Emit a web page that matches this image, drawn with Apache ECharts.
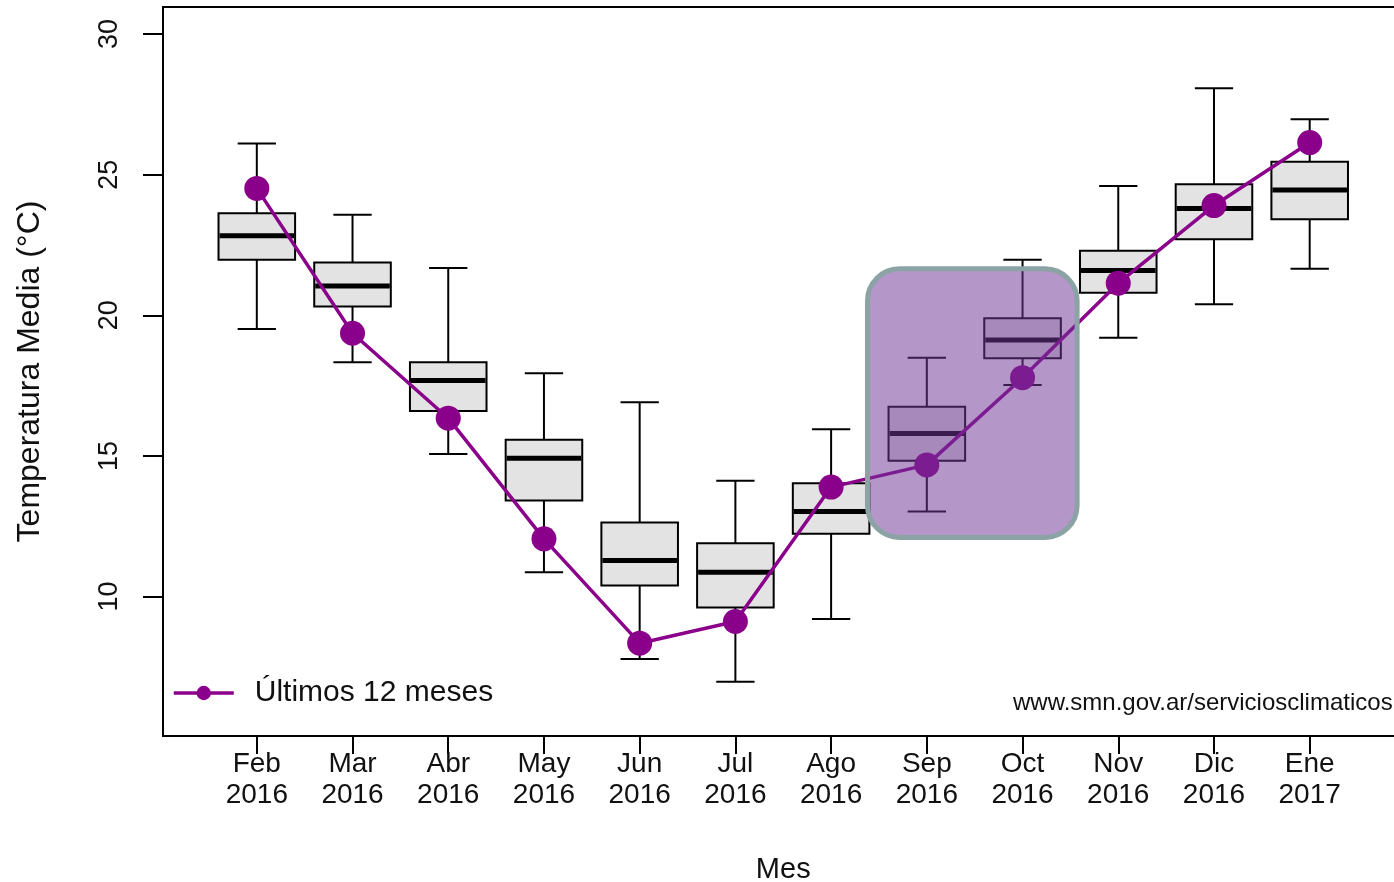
<!DOCTYPE html>
<html>
<head>
<meta charset="utf-8">
<script src="https://cdn.jsdelivr.net/npm/echarts@6/dist/echarts.min.js"></script>
<style>
  html, body { margin: 0; padding: 0; background: #ffffff; }
  #chart { width: 1394px; height: 882px; }
</style>
</head>
<body>
<div id="chart"></div>
<script>
// Monthly mean temperature: historical distribution per month (boxes)
// and the values observed over the last twelve months (line).
const months = ['Feb\n2016', 'Mar\n2016', 'Abr\n2016', 'May\n2016', 'Jun\n2016', 'Jul\n2016',
                'Ago\n2016', 'Sep\n2016', 'Oct\n2016', 'Nov\n2016', 'Dic\n2016', 'Ene\n2017'];
const whiskerLow  = [19.51, 18.33, 15.07, 10.86,  7.78,  6.97,  9.20, 13.02, 17.52, 19.20, 20.39, 21.65];
const quartile1   = [21.97, 20.31, 16.60, 13.41, 10.39,  9.61, 12.23, 14.83, 18.47, 20.80, 22.70, 23.41];
const medians     = [22.83, 21.04, 17.68, 14.92, 11.28, 10.86, 13.02, 15.80, 19.12, 21.59, 23.80, 24.45];
const quartile3   = [23.63, 21.88, 18.33, 15.57, 12.63, 11.89, 14.03, 16.75, 19.89, 22.29, 24.66, 25.46];
const whiskerHigh = [26.11, 23.57, 21.68, 17.94, 16.91, 14.12, 15.95, 18.49, 21.97, 24.60, 28.07, 26.97];
const last12      = [24.51, 19.36, 16.34, 12.05,  8.34,  9.11, 13.89, 14.68, 17.78, 21.14, 23.90, 26.14];
const yTicks = [10, 15, 20, 25, 30];
const positions = months.map((m, i) => i + 1);
// Highlighted months (Sep–Oct), in box-position and °C units
const highlightX = [7.38, 9.57];
const highlightY = [12.1, 21.65];

const seriesName = 'Últimos 12 meses';
const FONT = "'Liberation Sans', Arial, sans-serif";
const INK = '#111111';
const LINE_COLOR = '#8B008B';

const boxData = positions.map((p, i) =>
  [p, whiskerLow[i], quartile1[i], medians[i], quartile3[i], whiskerHigh[i]]);
const lineData = positions.map((p, i) => [p, last12[i]]);

const chart = echarts.init(document.getElementById('chart'), null, { renderer: 'canvas' });

chart.setOption({
  animation: false,
  backgroundColor: '#ffffff',
  textStyle: { fontFamily: FONT, color: INK },
  grid: {
    left: 163, right: -9.5, top: 7, bottom: 146,
    outerBoundsMode: 'none',
    containLabel: false,
    show: true, borderColor: '#000000', borderWidth: 2, backgroundColor: 'transparent'
  },
  xAxis: {
    type: 'value',
    min: 0.02, max: 12.98,
    name: 'Mes',
    nameLocation: 'middle',
    nameGap: 119,
    nameTextStyle: { fontSize: 29, color: INK, fontFamily: FONT },
    axisLine: { show: false },
    splitLine: { show: false },
    axisTick: { show: true, inside: false, length: 18, customValues: positions,
                lineStyle: { color: '#000000', width: 2 } },
    axisLabel: {
      customValues: positions,
      formatter: v => months[Math.round(v) - 1] || '',
      fontSize: 28, lineHeight: 31, margin: 13, color: INK, fontFamily: FONT
    }
  },
  yAxis: {
    type: 'value',
    min: 5.04, max: 30.96,
    name: 'Temperatura Media (°C)',
    nameLocation: 'middle',
    nameGap: 117,
    nameRotate: 90,
    nameTextStyle: { fontSize: 32, color: INK, fontFamily: FONT },
    axisLine: { show: false },
    splitLine: { show: false },
    axisTick: { show: true, inside: false, length: 20, customValues: yTicks,
                lineStyle: { color: '#000000', width: 2 } },
    axisLabel: {
      customValues: yTicks,
      rotate: 90, fontSize: 27, margin: 40, color: INK, fontFamily: FONT
    }
  },
  legend: {
    data: [seriesName],
    left: 172, top: 678,
    padding: 0,
    itemWidth: 60, itemHeight: 18,
    lineStyle: { width: 3.5 },
    textStyle: { fontSize: 30, color: INK, fontFamily: FONT, padding: [0, 0, 0, 16] }
  },
  graphic: [{
    type: 'text',
    left: 1013, top: 691,
    style: { text: 'www.smn.gov.ar/serviciosclimaticos', fontSize: 24, fill: INK, fontFamily: FONT },
    z: 10
  }],
  series: [
    {
      // Boxes with whiskers and half-width staples
      type: 'custom',
      name: 'Distribución',
      z: 2,
      encode: { x: 0, y: [1, 2, 3, 4, 5] },
      data: boxData,
      renderItem(params, api) {
        const x = api.value(0);
        const pLow = api.coord([x, api.value(1)]);
        const pQ1 = api.coord([x, api.value(2)]);
        const pMed = api.coord([x, api.value(3)]);
        const pQ3 = api.coord([x, api.value(4)]);
        const pHigh = api.coord([x, api.value(5)]);
        const cx = pLow[0];
        const half = api.size([0.8, 0])[0] / 2;
        const cap = half / 2;
        const stroke = { stroke: '#000000', lineWidth: 2 };
        return {
          type: 'group',
          children: [
            { type: 'line', shape: { x1: cx, y1: pHigh[1], x2: cx, y2: pQ3[1] }, style: stroke },
            { type: 'line', shape: { x1: cx, y1: pQ1[1], x2: cx, y2: pLow[1] }, style: stroke },
            { type: 'line', shape: { x1: cx - cap, y1: pHigh[1], x2: cx + cap, y2: pHigh[1] }, style: stroke },
            { type: 'line', shape: { x1: cx - cap, y1: pLow[1], x2: cx + cap, y2: pLow[1] }, style: stroke },
            { type: 'rect', shape: { x: cx - half, y: pQ3[1], width: 2 * half, height: pQ1[1] - pQ3[1] },
              style: { fill: '#e3e3e3', stroke: '#000000', lineWidth: 2 } },
            { type: 'line', shape: { x1: cx - half + 1, y1: pMed[1], x2: cx + half - 1, y2: pMed[1] },
              style: { stroke: '#000000', lineWidth: 5 } }
          ]
        };
      }
    },
    {
      type: 'line',
      name: seriesName,
      z: 3,
      data: lineData,
      symbol: 'circle',
      symbolSize: 25,
      itemStyle: { color: LINE_COLOR },
      lineStyle: { color: LINE_COLOR, width: 3.5 },
      emphasis: { disabled: true }
    },
    {
      // Translucent rounded panel over the highlighted months
      type: 'custom',
      name: 'Destacado',
      z: 5,
      encode: { x: [0, 1], y: [2, 3] },
      data: [[highlightX[0], highlightX[1], highlightY[0], highlightY[1]]],
      renderItem(params, api) {
        const a = api.coord([api.value(0), api.value(3)]);
        const b = api.coord([api.value(1), api.value(2)]);
        return {
          type: 'rect',
          shape: { x: a[0], y: a[1], width: b[0] - a[0], height: b[1] - a[1], r: 32 },
          style: { fill: 'rgba(112,54,152,0.52)', stroke: '#8ca3a5', lineWidth: 5 }
        };
      }
    }
  ]
});
</script>
</body>
</html>
